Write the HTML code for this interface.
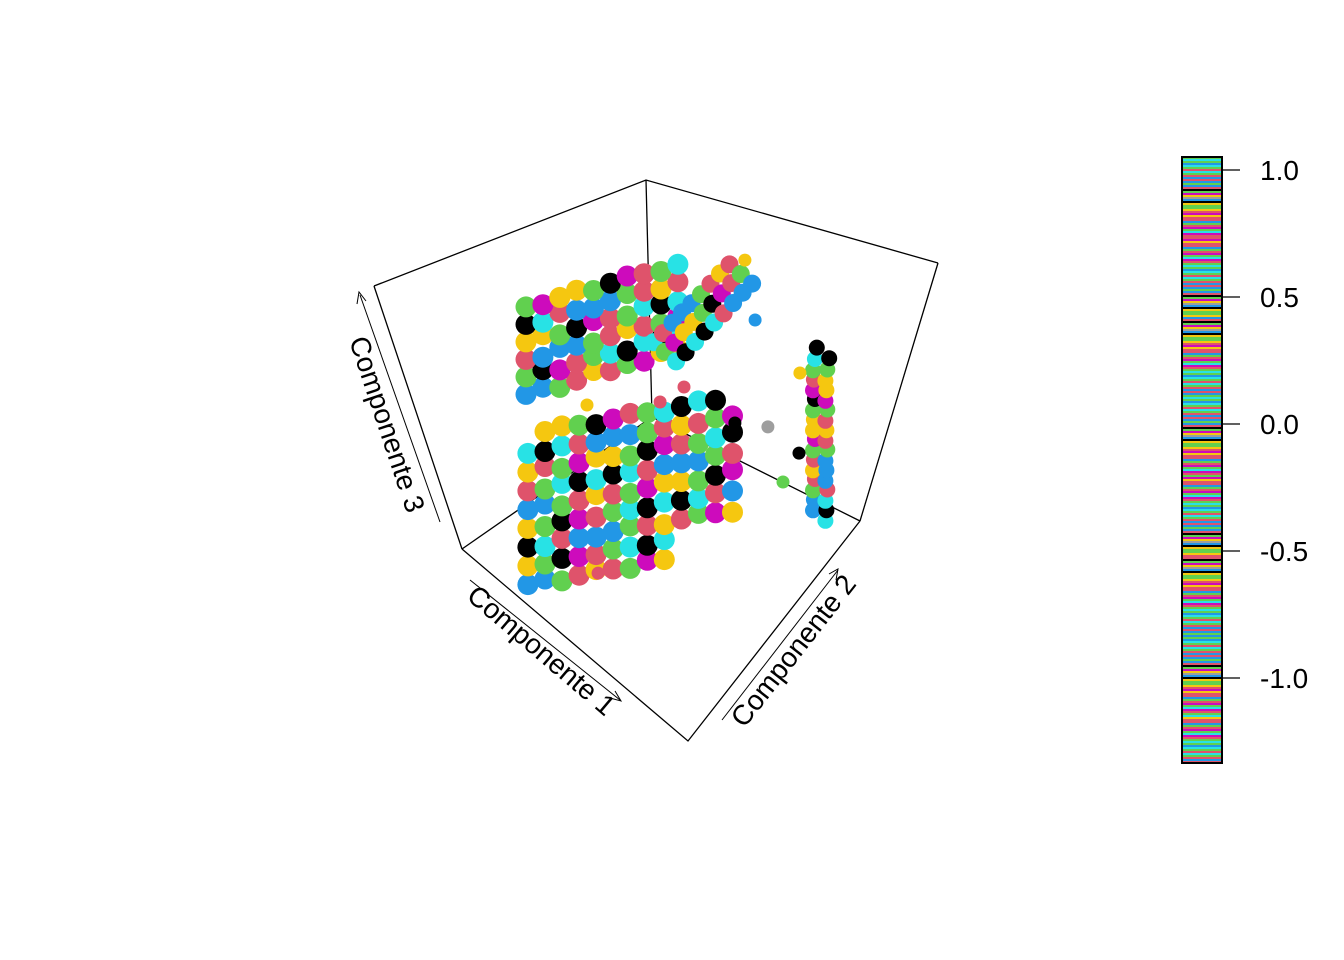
<!DOCTYPE html>
<html><head><meta charset="utf-8"><style>
html,body{margin:0;padding:0;background:#fff;}
svg{display:block;font-family:"Liberation Sans",Arial,sans-serif;}
</style></head><body>
<svg id="chart" width="1344" height="960" viewBox="0 0 1344 960" xmlns="http://www.w3.org/2000/svg">
<g id="box" stroke="#000" stroke-width="1.3" fill="none">
  <line x1="646" y1="180" x2="652" y2="417"/>
  <line x1="652" y1="417" x2="860" y2="521"/>
  <line x1="652" y1="417" x2="462" y2="549"/>
  <polyline points="374,286 646,180 938,263"/>
  <line x1="374" y1="286" x2="462" y2="549"/>
  <line x1="938" y1="263" x2="860" y2="521"/>
  <polyline points="462,549 688,741 860,521"/>
</g>
<g id="points"></g>
<g>
  <line x1="440" y1="522" x2="360" y2="295" stroke="#000" stroke-width="1"/>
  <polyline points="357,304 359,292 366,301" fill="none" stroke="#000" stroke-width="1"/>
  <text x="385" y="425" font-size="28" text-anchor="middle" dominant-baseline="middle" transform="rotate(71.5 385 425)">Componente 3</text>
</g>
<g>
  <line x1="470" y1="580" x2="620" y2="700" stroke="#000" stroke-width="1"/>
  <polyline points="610,698 621,701 615,691" fill="none" stroke="#000" stroke-width="1"/>
  <text x="540" y="652" font-size="28" text-anchor="middle" dominant-baseline="middle" transform="rotate(40.4 540 652)">Componente 1</text>
</g>
<g>
  <line x1="722" y1="720" x2="838" y2="570" stroke="#000" stroke-width="1"/>
  <polyline points="829,574 838,569 836,580" fill="none" stroke="#000" stroke-width="1"/>
  <text x="795" y="652" font-size="28" text-anchor="middle" dominant-baseline="middle" transform="rotate(-52 795 652)">Componente 2</text>
</g>
<g id="colorbar"></g>
</svg>
<script>
// Cluster data (normalized component values)
const clusterA_c1 = [0.10,0.12,0.14,0.16,0.18,0.20,0.22,0.24,0.26,0.28, 0.10,0.12,0.14,0.16,0.18,0.20,0.22,0.24,0.26,0.28, 0.10,0.12,0.14,0.16,0.18,0.20,0.22,0.24,0.26,0.28, 0.10,0.12,0.14,0.16,0.18,0.20,0.22,0.24,0.26,0.28, 0.10,0.12,0.14,0.16,0.18,0.20,0.22,0.24,0.26,0.28, 0.10,0.12,0.14,0.16,0.18,0.20,0.22,0.24,0.26,0.28];
const clusterA_c2 = [0.218,0.283,0.348,0.413,0.478,0.543,0.608,0.673,0.738,0.803, 0.218,0.283,0.348,0.413,0.478,0.543,0.608,0.673,0.738,0.803, 0.218,0.283,0.348,0.413,0.478,0.543,0.608,0.673,0.738,0.803, 0.218,0.283,0.348,0.413,0.478,0.543,0.608,0.673,0.738,0.803, 0.218,0.283,0.348,0.413,0.478,0.543,0.608,0.673,0.738,0.803, 0.218,0.283,0.348,0.413,0.478,0.543,0.608,0.673,0.738,0.803];
const clusterA_c3 = [0.58,0.59,0.57,0.58,0.60,0.58,0.59,0.58,0.60,0.59, 0.65,0.66,0.64,0.65,0.66,0.65,0.64,0.66,0.65,0.66, 0.72,0.71,0.73,0.72,0.71,0.72,0.73,0.72,0.71,0.72, 0.79,0.80,0.78,0.79,0.80,0.79,0.78,0.80,0.79,0.78, 0.86,0.85,0.87,0.86,0.85,0.86,0.87,0.86,0.85,0.86, 0.93,0.92,0.93,0.94,0.92,0.93,0.94,0.93,0.92,0.93];
const clusterB_c1 = [0.29,0.29,0.29,0.29,0.29,0.29,0.29,0.29,0.29, 0.34,0.34,0.34,0.34,0.34,0.34,0.34,0.34,0.34, 0.39,0.39,0.39,0.39,0.39,0.39,0.39,0.39,0.39];
const clusterB_c2 = [0.663,0.713,0.763,0.813,0.863,0.913,0.963,1.013,1.063, 0.663,0.713,0.763,0.813,0.863,0.913,0.963,1.013,1.063, 0.663,0.713,0.763,0.813,0.863,0.913,0.963,1.013,1.063];
const clusterB_c3 = [0.70,0.71,0.725,0.74,0.75,0.76,0.775,0.79,0.80, 0.70,0.71,0.725,0.74,0.75,0.76,0.775,0.79,0.80, 0.70,0.71,0.725,0.74,0.75,0.76,0.775,0.79,0.80];
const clusterC_c1 = [
0.09,0.115,0.14,0.165,0.19,0.215,0.24,0.265,0.29,
0.09,0.115,0.14,0.165,0.19,0.215,0.24,0.265,0.29,
0.09,0.115,0.14,0.165,0.19,0.215,0.24,0.265,0.29,0.315,0.34,0.365,0.39,
0.09,0.115,0.14,0.165,0.19,0.215,0.24,0.265,0.29,0.315,0.34,0.365,0.39,
0.09,0.115,0.14,0.165,0.19,0.215,0.24,0.265,0.29,0.315,0.34,0.365,0.39,
0.09,0.115,0.14,0.165,0.19,0.215,0.24,0.265,0.29,0.315,0.34,0.365,0.39,
0.09,0.115,0.14,0.165,0.19,0.215,0.24,0.265,0.29,0.315,0.34,0.365,0.39,
0.09,0.115,0.14,0.165,0.19,0.215,0.24,0.265,0.29,0.315,0.34,0.365,0.39,
0.115,0.14,0.165,0.19,0.215,0.24,0.265,0.29,0.315,0.34,0.365];
const clusterC_c2 = [
0.24,0.30,0.36,0.42,0.48,0.54,0.60,0.66,0.72,
0.24,0.30,0.36,0.42,0.48,0.54,0.60,0.66,0.72,
0.24,0.30,0.36,0.42,0.48,0.54,0.60,0.66,0.72,0.78,0.84,0.90,0.96,
0.24,0.30,0.36,0.42,0.48,0.54,0.60,0.66,0.72,0.78,0.84,0.90,0.96,
0.24,0.30,0.36,0.42,0.48,0.54,0.60,0.66,0.72,0.78,0.84,0.90,0.96,
0.24,0.30,0.36,0.42,0.48,0.54,0.60,0.66,0.72,0.78,0.84,0.90,0.96,
0.24,0.30,0.36,0.42,0.48,0.54,0.60,0.66,0.72,0.78,0.84,0.90,0.96,
0.24,0.30,0.36,0.42,0.48,0.54,0.60,0.66,0.72,0.78,0.84,0.90,0.96,
0.30,0.36,0.42,0.48,0.54,0.60,0.66,0.72,0.78,0.84,0.90];
const clusterC_c3 = [
-0.20,-0.19,-0.21,-0.20,-0.19,-0.20,-0.21,-0.19,-0.20,
-0.125,-0.13,-0.12,-0.125,-0.13,-0.12,-0.125,-0.13,-0.12,
-0.05,-0.06,-0.04,-0.05,-0.06,-0.05,-0.04,-0.05,-0.06,-0.05,-0.04,-0.05,-0.06,
0.025,0.02,0.03,0.025,0.02,0.03,0.025,0.02,0.03,0.025,0.02,0.03,0.025,
0.10,0.11,0.09,0.10,0.11,0.10,0.09,0.10,0.11,0.10,0.09,0.10,0.11,
0.175,0.17,0.18,0.175,0.17,0.18,0.175,0.17,0.18,0.175,0.17,0.18,0.175,
0.25,0.26,0.24,0.25,0.26,0.25,0.24,0.25,0.26,0.25,0.24,0.25,0.26,
0.325,0.32,0.33,0.325,0.32,0.33,0.325,0.32,0.33,0.325,0.32,0.33,0.325,
0.40,0.41,0.40,0.39,0.40,0.41,0.40,0.39,0.40,0.41,0.40];
const clusterD_c1 = [0.645,0.645,0.645,0.645,0.645,0.645,0.645,0.645,0.645,0.645,0.645,0.645,0.645,0.645,0.645,0.645,0.645, 0.70,0.70,0.70,0.70,0.70,0.70,0.70,0.70,0.70,0.70,0.70,0.70,0.70,0.70,0.70,0.70,0.70];
const clusterD_c2 = [1.08,1.085,1.08,1.09,1.08,1.085,1.08,1.09,1.08,1.085,1.08,1.09,1.08,1.085,1.08,1.09,1.10, 1.08,1.085,1.08,1.09,1.08,1.085,1.08,1.09,1.08,1.085,1.08,1.09,1.08,1.085,1.08,1.09,1.10];
const clusterD_c3 = [0.08,0.12,0.16,0.20,0.24,0.28,0.32,0.36,0.40,0.44,0.48,0.52,0.56,0.60,0.64,0.68,0.72, 0.08,0.12,0.16,0.20,0.24,0.28,0.32,0.36,0.40,0.44,0.48,0.52,0.56,0.60,0.64,0.68,0.72];
const outlier_c1 = [0.474,0.611,0.662,0.397,0.598,0.336,0.38,0.572,0.051,0.188,0.34];
const outlier_c2 = [1.046,1.047,0.902,0.964,1.067,0.769,1.037,0.862,0.597,0.819,0.312];
const outlier_c3 = [0.3,0.3,0.3,0.3,0.6,0.5,0.9,0.9,0.3,0.3,0.0];
const outlier_col = [7,0,2,0,6,1,6,3,6,1,1];

const palette = ["#000000","#DF536B","#61D04F","#2297E6","#28E2E5","#CD0BBC","#F5C710","#9E9E9E"];
const colorbarTicks = [1.0, 0.5, 0.0, -0.5, -1.0];
const colorbarLabels = ["1.0","0.5","0.0","-0.5","-1.0"];

// projection (axis functions)
function projX(a,b,c){ return 462 + 226*a + 190*b; }
function projY(a,b,c){ return 549 + 192*a - 132*b - 250*c; }

const NS="http://www.w3.org/2000/svg";
const layer=document.getElementById('points');
const colorSeq=[1,2,3,0,4,5,6,2,1,3,4,0,1,2,5,6,3,1,4,2,0,6];
function drawCluster(c1,c2,c3,name,cols,rad){
  for(let i=0;i<c1.length;i++){
    const p=document.createElementNS(NS,'circle');
    p.setAttribute('cx',projX(c1[i],c2[i],c3[i]).toFixed(1));
    p.setAttribute('cy',projY(c1[i],c2[i],c3[i]).toFixed(1));
    p.setAttribute('r',rad);
    const ci = cols ? cols[i] : colorSeq[(i*7+name.length)%colorSeq.length];
    p.setAttribute('fill',palette[ci]);
    
    
    layer.appendChild(p);
  }
}
drawCluster(clusterC_c1,clusterC_c2,clusterC_c3,'cluster-c',null,10.5);
drawCluster(clusterA_c1,clusterA_c2,clusterA_c3,'cluster-a',null,10.5);
drawCluster(clusterB_c1,clusterB_c2,clusterB_c3,'cluster-b1',null,9);
drawCluster(clusterD_c1,clusterD_c2,clusterD_c3,'cluster-d',null,8);
drawCluster(outlier_c1,outlier_c2,outlier_c3,'outlier',outlier_col,6.5);

// colorbar
const cb=document.getElementById('colorbar');
const cbTop=157, cbBot=763, cbX=1182, cbW=40;
function cbY(v){ return 170 + (1.0 - v) * 254; }
const stripeSeq=[2,1,3,4,5,1,2,6,0,3,1,2,4,1,5,2,3,6,1,2,7,4,1,3,2,5,0,1,2,6,3,4,2,1,5,2,3,1,6,2];
for(let y=cbTop, k=0; y<cbBot; y+=2, k++){
  const r=document.createElementNS(NS,'rect');
  r.setAttribute('x',cbX); r.setAttribute('y',y); r.setAttribute('width',cbW); r.setAttribute('height',2);
  r.setAttribute('fill',palette[stripeSeq[(k*3+Math.floor(k/40))%stripeSeq.length]]);
  
  
  cb.appendChild(r);
}
const fr=document.createElementNS(NS,'rect');
fr.setAttribute('x',cbX); fr.setAttribute('y',cbTop); fr.setAttribute('width',cbW); fr.setAttribute('height',cbBot-cbTop);
fr.setAttribute('fill','none'); fr.setAttribute('stroke','#000'); fr.setAttribute('stroke-width','2');


cb.appendChild(fr);
colorbarTicks.forEach((v,i)=>{
  const y=cbY(v);
  const t=document.createElementNS(NS,'line');
  t.setAttribute('x1',cbX+cbW); t.setAttribute('x2',cbX+cbW+18); t.setAttribute('y1',y); t.setAttribute('y2',y);
  t.setAttribute('stroke','#000'); t.setAttribute('stroke-width','1.3');
  
  
  cb.appendChild(t);
  const tx=document.createElementNS(NS,'text');
  tx.setAttribute('x',1260); tx.setAttribute('y',y+10); tx.setAttribute('font-size','28');
  tx.textContent=colorbarLabels[i];
  
  
  cb.appendChild(tx);
});
</script>
</body></html>
